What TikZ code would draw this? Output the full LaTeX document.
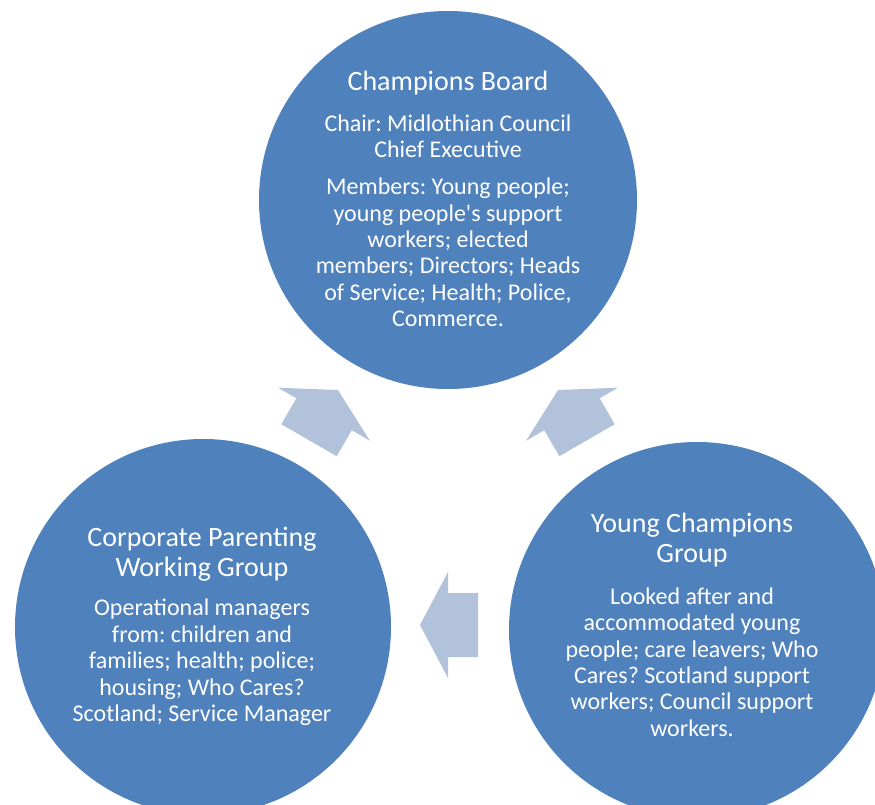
\documentclass[tikz,border=0pt]{standalone}
\usepackage{fontspec}
\setmainfont{Carlito}[Ligatures=TeXOff]
\frenchspacing
\definecolor{circblue}{RGB}{79,129,189}
\definecolor{arrblue}{RGB}{179,194,219}
\tikzset{
  bigcirc/.style={circle, fill=circblue, draw=none, inner sep=0pt, minimum size=#1},
  titletext/.style={text=white, align=center, font=\fontsize{28}{29.5}\selectfont, inner sep=0pt},
  bodytext/.style={text=white, align=center, font=\fontsize{24}{26.4}\selectfont, inner sep=0pt},
  blockarrow/.style={fill=arrblue, draw=none}
}
\newcommand{\blockarr}[3]{%
  \fill[blockarrow, shift={(#1,#2)}, rotate=#3]
    (0,0) -- (-28,53) -- (-28,32) -- (-58,32) -- (-58,-32) -- (-28,-32) -- (-28,-53) -- cycle;}
\begin{document}
\begin{tikzpicture}[x=1pt,y=1pt]
\useasboundingbox (0,0) rectangle (875,804);
\clip (0,0) rectangle (875,804);
\fill[white] (0,0) rectangle (875,804);
% circles
\node[bigcirc=378pt] (board) at (448,604) {};
\node[bigcirc=376pt] (corp) at (203,177) {};
\node[bigcirc=376pt] (young) at (697,174) {};
% block arrows
\blockarr{420}{179}{180}
\blockarr{338}{414}{60}
\blockarr{558}{414}{120}
% texts
\node[titletext] (boardtitle) at (448,721) {Champions Board};
\node[bodytext] (boardchair) at (448,667.5) {Chair: Midlothian Council\\Chief Executive};
\node[bodytext] (boardmem) at (448,551.5) {Members: Young people;\\young people's support\\workers; elected\\members; Directors; Heads\\of Service; Health; Police,\\Commerce.};
\node[titletext] (corptitle) at (202,250) {Corporate Parenting\\Working Group};
\node[bodytext] (corpbody) at (202,141.5) {Operational managers\\from: children and\\families; health; police;\\housing; Who Cares?\\Scotland; Service Manager};
\node[titletext] (youngtitle) at (692,264) {Young Champions\\Group};
\node[bodytext] (youngbody) at (692,142) {Looked after and\\accommodated young\\people; care leavers; Who\\Cares? Scotland support\\workers; Council support\\workers.};
\end{tikzpicture}
\end{document}
